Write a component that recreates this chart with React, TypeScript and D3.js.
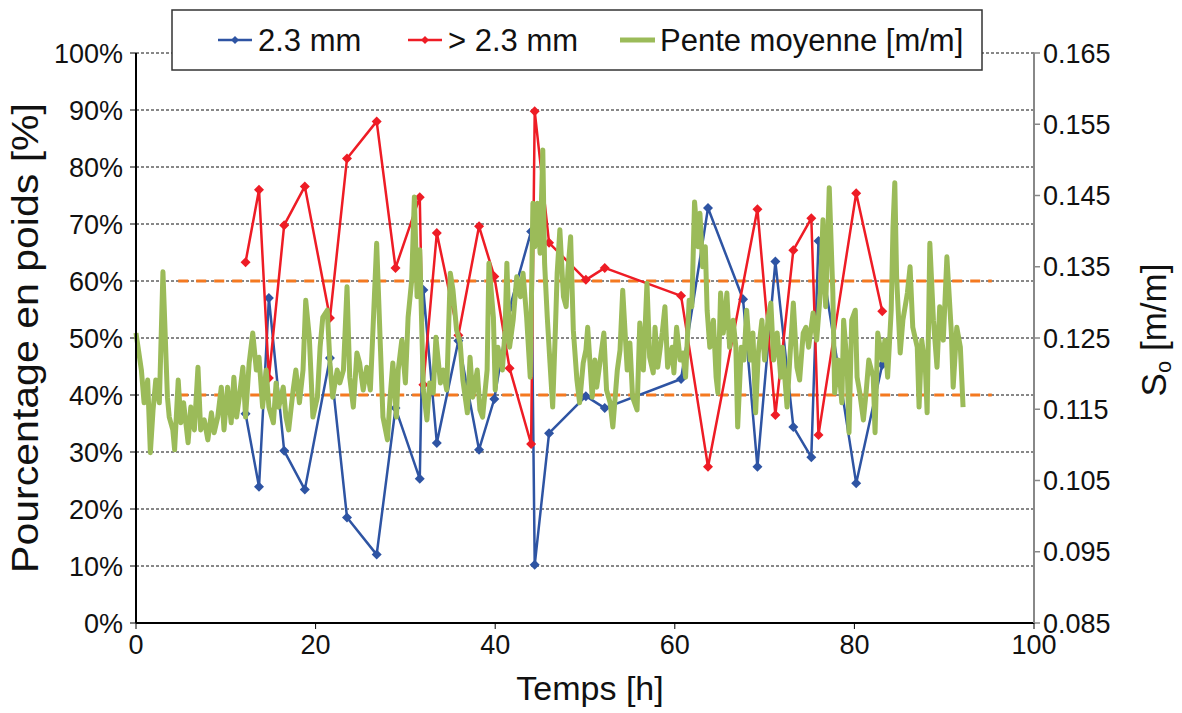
import React, { useEffect } from "react";
import * as d3 from "d3";

const blueT = [12.2, 13.7, 14.8, 16.5, 18.8, 21.6, 23.5, 26.8, 28.9, 31.6, 32.0, 33.5, 35.9, 38.2, 39.9, 41.6, 44.0, 44.4, 46.0, 50.1, 52.2, 60.7, 63.7, 67.6, 69.2, 71.2, 73.2, 75.2, 76.0, 80.2, 83.1];
const blueV = [36.7, 23.9, 57.0, 30.2, 23.4, 46.5, 18.5, 12.0, 37.7, 25.3, 58.4, 31.6, 49.5, 30.4, 39.3, 55.2, 68.7, 10.2, 33.3, 39.8, 37.7, 42.8, 72.8, 56.8, 27.4, 63.4, 34.4, 29.1, 67.0, 24.5, 45.3];

const redT = [12.2, 13.7, 14.8, 16.5, 18.8, 21.6, 23.5, 26.8, 28.9, 31.6, 32.0, 33.5, 35.9, 38.2, 39.9, 41.6, 44.0, 44.4, 46.0, 50.1, 52.2, 60.7, 63.7, 69.2, 71.2, 73.2, 75.2, 76.0, 80.2, 83.1];
const redV = [63.3, 76.0, 43.0, 69.8, 76.6, 53.5, 81.5, 88.0, 62.3, 74.7, 41.8, 68.4, 50.5, 69.6, 60.8, 44.7, 31.4, 89.8, 66.7, 60.2, 62.3, 57.4, 27.4, 72.6, 36.5, 65.4, 71.0, 33.0, 75.4, 54.7];

const greenT = [
  0.0, 0.6, 0.9, 1.3, 1.6, 1.9, 2.2, 2.6, 3.0, 3.5, 3.7, 4.1, 4.3, 4.7, 5.0, 5.3, 5.8, 6.1, 6.5, 6.9,
  7.2, 7.6, 8.0, 8.4, 8.7, 9.1, 9.5, 9.8, 10.2, 10.6, 10.9, 11.2, 11.5, 11.9, 12.2, 12.6, 13.0, 13.4, 13.7, 14.1,
  14.5, 14.8, 15.3, 15.6, 15.9, 16.4, 16.7, 17.0, 17.5, 17.8, 18.2, 18.6, 18.9, 19.3, 19.7, 20.2, 20.5, 20.8, 21.3, 21.6,
  21.9, 22.4, 22.7, 23.1, 23.5, 23.8, 24.2, 24.6, 24.9, 25.3, 25.7, 26.1, 26.4, 26.8, 27.2, 27.5, 28.0, 28.3, 28.6, 29.0,
  29.2, 29.6, 30.0, 30.3, 30.7, 31.0, 31.3, 31.6, 32.0, 32.4, 32.7, 33.1, 33.4, 33.9, 34.2, 34.6, 35.0, 35.3, 35.7, 36.1,
  36.4, 36.9, 37.2, 37.5, 38.0, 38.3, 38.6, 39.1, 39.3, 39.8, 40.0, 40.3, 40.8, 41.1, 41.3, 41.6, 42.0, 42.4, 42.8, 43.1,
  43.5, 43.9, 44.2, 44.4, 44.7, 45.0, 45.3, 45.5, 45.8, 46.1, 46.4, 46.7, 46.9, 47.2, 47.6, 47.9, 48.1, 48.4, 48.7, 49.1,
  49.4, 49.8, 50.1, 50.3, 50.8, 51.1, 51.3, 51.7, 52.1, 52.4, 52.8, 53.1, 53.6, 53.9, 54.2, 54.7, 55.0, 55.3, 55.8, 56.1,
  56.5, 56.9, 57.2, 57.6, 57.8, 58.1, 58.6, 58.9, 59.2, 59.7, 59.9, 60.2, 60.6, 60.9, 61.2, 61.6, 61.9, 62.2, 62.6, 62.8,
  63.1, 63.4, 63.6, 63.9, 64.3, 64.6, 64.8, 65.1, 65.4, 65.8, 66.1, 66.5, 66.8, 67.0, 67.4, 67.7, 68.0, 68.4, 68.7, 69.0,
  69.3, 69.7, 70.0, 70.4, 70.7, 71.0, 71.4, 71.8, 72.0, 72.5, 72.8, 73.2, 73.6, 73.9, 74.3, 74.6, 74.9, 75.4, 75.8, 76.2,
  76.5, 76.8, 77.2, 77.6, 77.8, 78.2, 78.6, 78.8, 79.2, 79.4, 79.7, 80.1, 80.3, 80.6, 81.0, 81.3, 81.6, 82.1, 82.3, 82.6,
  83.1, 83.4, 83.7, 84.1, 84.3, 84.5, 84.7, 85.1, 85.4, 85.9, 86.2, 86.5, 87.0, 87.2, 87.5, 87.9, 88.1, 88.4, 88.8, 89.2,
  89.5, 89.9, 90.3, 90.8, 91.0, 91.4, 91.8, 92.1
];
const greenV = [
  0.1257, 0.1205, 0.1159, 0.1191, 0.1089, 0.1149, 0.1191, 0.1159, 0.1343, 0.1167, 0.1139, 0.1121, 0.1093, 0.1191, 0.1131, 0.1159, 0.1103, 0.1153, 0.1121, 0.1209,
  0.1121, 0.1135, 0.1107, 0.1145, 0.1117, 0.1139, 0.1181, 0.1121, 0.1181, 0.1131, 0.1195, 0.1139, 0.1167, 0.1209, 0.1139, 0.1215, 0.1257, 0.1205, 0.1223, 0.1153,
  0.1205, 0.1153, 0.1131, 0.1187, 0.1153, 0.1181, 0.1139, 0.1121, 0.1177, 0.1205, 0.1159, 0.1205, 0.1303, 0.1251, 0.1139, 0.1167, 0.1237, 0.1279, 0.1289, 0.1215,
  0.1167, 0.1205, 0.1187, 0.1205, 0.1322, 0.1195, 0.1153, 0.1229, 0.1215, 0.1177, 0.1209, 0.1177, 0.1265, 0.1383, 0.1243, 0.1139, 0.1107, 0.1167, 0.1215, 0.1139,
  0.1205, 0.1247, 0.1187, 0.1279, 0.1331, 0.1448, 0.1308, 0.1374, 0.1177, 0.1135, 0.1187, 0.1173, 0.1251, 0.1187, 0.1205, 0.1177, 0.1341, 0.1317, 0.1261, 0.1243,
  0.1191, 0.1145, 0.1223, 0.1167, 0.1205, 0.1149, 0.1139, 0.1205, 0.1355, 0.1279, 0.1177, 0.1237, 0.1205, 0.1261, 0.1355, 0.1237, 0.1275, 0.1336, 0.1308, 0.1341,
  0.1279, 0.1195, 0.1439, 0.1378, 0.1439, 0.1369, 0.1514, 0.1355, 0.1279, 0.1215, 0.1153, 0.1261, 0.1341, 0.1402, 0.1308, 0.1294, 0.1345, 0.1392, 0.1261, 0.1191,
  0.1159, 0.1215, 0.1233, 0.1265, 0.1167, 0.1219, 0.1181, 0.1219, 0.1257, 0.1177, 0.1159, 0.1125, 0.1205, 0.1233, 0.1317, 0.1205, 0.1243, 0.1167, 0.1149, 0.1271,
  0.1205, 0.1327, 0.1223, 0.1201, 0.1265, 0.1209, 0.1257, 0.1294, 0.1209, 0.1237, 0.1201, 0.1265, 0.1219, 0.1229, 0.1195, 0.1303, 0.1294, 0.1441, 0.1378, 0.1425,
  0.1350, 0.1378, 0.1289, 0.1237, 0.1275, 0.1195, 0.1173, 0.1313, 0.1257, 0.1313, 0.1237, 0.1275, 0.1237, 0.1125, 0.1237, 0.1219, 0.1289, 0.1219, 0.1257, 0.1145,
  0.1229, 0.1275, 0.1219, 0.1279, 0.1299, 0.1219, 0.1257, 0.1195, 0.1237, 0.1153, 0.1219, 0.1299, 0.1209, 0.1191, 0.1257, 0.1265, 0.1237, 0.1285, 0.1247, 0.1313,
  0.1416, 0.1294, 0.1461, 0.1313, 0.1173, 0.1219, 0.1159, 0.1275, 0.1209, 0.1117, 0.1275, 0.1289, 0.1195, 0.1173, 0.1135, 0.1173, 0.1219, 0.1195, 0.1117, 0.1257,
  0.1219, 0.1247, 0.1195, 0.1289, 0.1406, 0.1468, 0.1336, 0.1229, 0.1275, 0.1313, 0.1350, 0.1265, 0.1237, 0.1153, 0.1247, 0.1209, 0.1145, 0.1383, 0.1275, 0.1209,
  0.1294, 0.1247, 0.1364, 0.1257, 0.1181, 0.1265, 0.1237, 0.1153
];

const pctTicks = [0, 10, 20, 30, 40, 50, 60, 70, 80, 90, 100];
const soTicks = [0.085, 0.095, 0.105, 0.115, 0.125, 0.135, 0.145, 0.155, 0.165];
const xTicks = [0, 20, 40, 60, 80, 100];
const refLevels = [40, 60];
const refRange = [4.7, 95.3];

const W = 1182, H = 713;
const L = 136, R = 1034, T = 53, B = 623;
const FONT = "'Liberation Sans', Arial, Helvetica, sans-serif";
const BLUE = "#2E54A3";
const RED = "#EE1C25";
const GREEN = "#9BBB59";
const ORANGE = "#F47920";

export default function App() {
  useEffect(() => {
    document.body.style.margin = "0";
  }, []);

  const x = d3.scaleLinear().domain([0, 100]).range([L, R]);
  const yL = d3.scaleLinear().domain([0, 100]).range([B, T]);
  const yR = d3.scaleLinear().domain([0.085, 0.165]).range([B, T]);

  const blue = blueT.map((t, i) => [t, blueV[i]] as [number, number]);
  const red = redT.map((t, i) => [t, redV[i]] as [number, number]);
  const green = greenT.map((t, i) => [t, greenV[i]] as [number, number]);

  const lineL = d3.line<[number, number]>().x((d) => x(d[0])).y((d) => yL(d[1]));
  const lineR = d3.line<[number, number]>().x((d) => x(d[0])).y((d) => yR(d[1]));
  const diamond = d3.symbol(d3.symbolSquare, 50)()!;
  const smallDiamond = d3.symbol(d3.symbolSquare, 32)()!;

  return (
    <svg width={W} height={H} style={{ display: "block", background: "#fff" }} fontFamily={FONT}>
      {pctTicks.filter((v) => v > 0).map((v) => (
        <line key={"g" + v} x1={L} x2={R} y1={yL(v)} y2={yL(v)} stroke="#111" strokeWidth={1} strokeDasharray="3,2" />
      ))}
      {pctTicks.map((v) => (
        <line key={"lt" + v} x1={L - 6} x2={L} y1={yL(v)} y2={yL(v)} stroke="#000" strokeWidth={1} />
      ))}
      {soTicks.map((v) => (
        <line key={"rt" + v} x1={R} x2={R + 6} y1={yR(v)} y2={yR(v)} stroke="#888" strokeWidth={1.5} />
      ))}
      {xTicks.map((v) => (
        <line key={"bt" + v} x1={x(v)} x2={x(v)} y1={B} y2={B + 6} stroke="#000" strokeWidth={1} />
      ))}
      {refLevels.map((v) => (
        <line key={"ref" + v} x1={x(refRange[0])} x2={x(refRange[1])} y1={yL(v)} y2={yL(v)} stroke={ORANGE} strokeWidth={3} strokeDasharray="10,8" />
      ))}
      <path d={lineL(blue)!} fill="none" stroke={BLUE} strokeWidth={2.5} strokeLinejoin="round" />
      {blue.map((d, i) => (
        <path key={"bm" + i} d={diamond} transform={`translate(${x(d[0])},${yL(d[1])}) rotate(45)`} fill={BLUE} />
      ))}
      <path d={lineL(red)!} fill="none" stroke={RED} strokeWidth={2.5} strokeLinejoin="round" />
      {red.map((d, i) => (
        <path key={"rm" + i} d={diamond} transform={`translate(${x(d[0])},${yL(d[1])}) rotate(45)`} fill={RED} />
      ))}
      <path d={lineR(green)!} fill="none" stroke={GREEN} strokeWidth={5} strokeLinejoin="round" />
      <line x1={L} x2={L} y1={T} y2={B} stroke="#000" strokeWidth={2} />
      <line x1={L} x2={R} y1={B} y2={B} stroke="#000" strokeWidth={2} />
      <line x1={R} x2={R} y1={T} y2={B} stroke="#888" strokeWidth={2} />
      {pctTicks.map((v) => (
        <text key={"ll" + v} x={L - 13} y={yL(v)} dy="0.36em" textAnchor="end" fontSize={27} fill="#111">{v + "%"}</text>
      ))}
      {soTicks.map((v) => (
        <text key={"rl" + v} x={R + 9} y={yR(v)} dy="0.36em" textAnchor="start" fontSize={27} fill="#111">{v.toFixed(3)}</text>
      ))}
      {xTicks.map((v) => (
        <text key={"xl" + v} x={x(v)} y={B + 31} textAnchor="middle" fontSize={27} fill="#111">{v}</text>
      ))}
      <text x={590} y={700} textAnchor="middle" fontSize={34} fill="#111">Temps [h]</text>
      <text transform={`translate(38,338) rotate(-90)`} textAnchor="middle" fontSize={36} fill="#111" textLength={470} lengthAdjust="spacingAndGlyphs">Pourcentage en poids [%]</text>
      <text transform={`translate(1166,330) rotate(-90)`} textAnchor="middle" fontSize={35} fill="#111">
        S<tspan fontSize={22} dy="5">o</tspan><tspan dy="-5"> [m/m]</tspan>
      </text>
      <rect x={172} y={10} width={810} height={60} fill="#fff" stroke="#333" strokeWidth={1.5} />
      <line x1={218} x2={252} y1={40} y2={40} stroke={BLUE} strokeWidth={2.5} />
      <path d={smallDiamond} transform="translate(235,40) rotate(45)" fill={BLUE} />
      <text x={258} y={51} fontSize={31} fill="#111">2.3 mm</text>
      <line x1={408} x2={442} y1={40} y2={40} stroke={RED} strokeWidth={2.5} />
      <path d={smallDiamond} transform="translate(425,40) rotate(45)" fill={RED} />
      <text x={448} y={51} fontSize={31} fill="#111">&gt; 2.3 mm</text>
      <line x1={620} x2={655} y1={40} y2={40} stroke={GREEN} strokeWidth={5} />
      <text x={660} y={51} fontSize={31} fill="#111">Pente moyenne [m/m]</text>
    </svg>
  );
}
